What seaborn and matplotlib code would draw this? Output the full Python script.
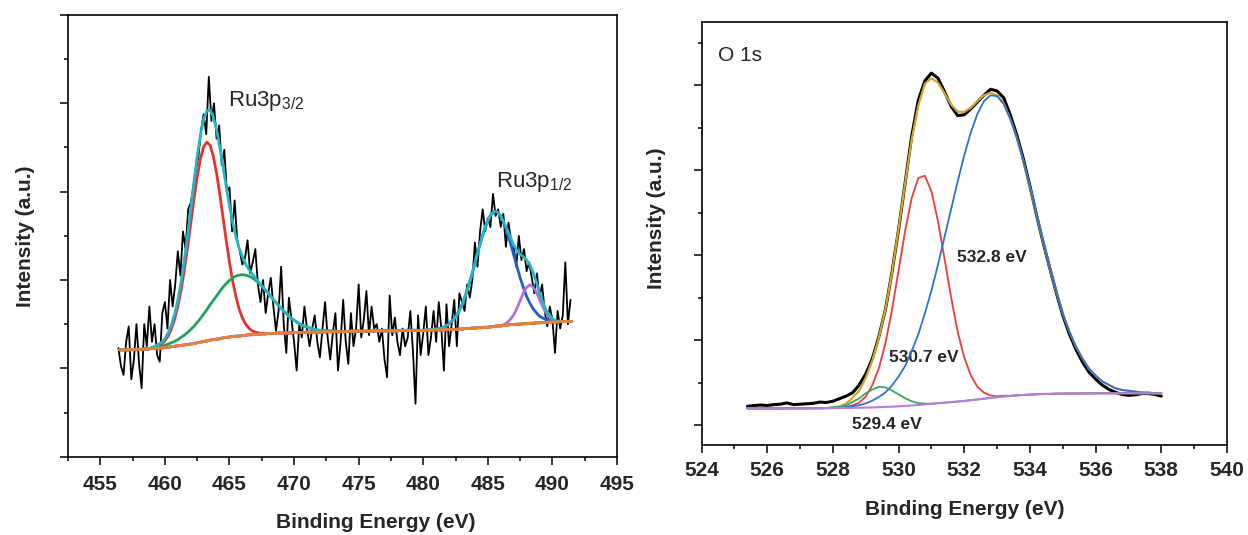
import numpy as np
import matplotlib
matplotlib.use("Agg")
import matplotlib.pyplot as plt
from matplotlib.ticker import MultipleLocator
import seaborn as sns

sns.set_theme(style="ticks")
plt.rcParams['font.family'] = ['Liberation Sans', 'DejaVu Sans']
plt.rcParams['mathtext.fontset'] = 'custom'
plt.rcParams['mathtext.rm'] = 'Liberation Sans'
plt.rcParams['mathtext.it'] = 'Liberation Sans:italic'
plt.rcParams['mathtext.bf'] = 'Liberation Sans:bold'

# ---------------- Ru 3p panel ----------------
# raw spectrum, 0.2 eV steps starting at 456.4 eV
ru_raw_start = 456.4
ru_raw = [
    2.46, 2.05, 1.85, 2.6, 2.95, 1.75, 2.2, 3.0, 2.1, 1.55,
    3.0, 2.5, 3.4, 2.6, 3.0, 2.3, 2.15, 3.25,
    3.5, 2.9, 4.0, 3.4, 3.9, 4.65, 4.1, 5.1, 4.7, 5.6,
    5.75, 6.1, 6.5, 6.8, 7.4, 7.75, 7.3, 8.6, 7.6, 8.0,
    7.2, 7.5, 6.6, 6.95, 6.0, 6.1, 5.1, 5.8,
    4.9, 4.65, 4.35, 4.5, 4.9, 4.15, 4.4, 4.7, 3.9, 3.5,
    4.0, 3.25, 3.7, 4.05, 3.4, 2.85, 3.3, 4.3, 3.0, 2.35,
    3.6, 3.1, 2.6, 1.95, 3.0, 2.7, 3.4, 2.9, 2.5, 2.9,
    3.2, 2.6, 2.25, 2.9, 3.5, 2.7, 2.2, 2.8, 3.25, 1.95,
    2.6, 3.55,
    2.6, 2.1, 3.25, 2.5, 2.9, 3.9, 2.7, 3.1, 3.75, 2.75,
    3.4, 2.9, 3.0, 2.6, 2.9, 2.2, 1.8, 3.65, 2.75, 3.15,
    2.6, 2.3, 2.9, 2.5, 2.7, 3.3, 2.4, 1.2, 3.2, 2.3,
    2.8, 3.4, 2.3, 2.7, 3.3, 2.6, 3.5, 2.9, 1.95, 3.45,
    2.5, 3.0, 3.55, 2.5, 3.7, 3.5, 3.3, 3.9, 3.6, 4.0,
    4.85, 4.3, 5.1, 5.6, 5.1, 5.4, 5.2, 5.95, 5.45, 5.6,
    5.2, 5.5, 4.75, 5.3, 4.9, 4.75, 4.3, 5.0, 4.45, 4.7,
    4.2, 4.4, 4.05, 3.7, 4.15, 3.6, 3.9, 3.3, 2.95, 3.4,
    3.1, 2.35, 3.3, 2.9, 3.2, 4.4, 3.0, 3.55,
]

# fit grid, 0.25 eV steps starting at 456.5 eV
ru_fit_start = 456.5
ru_bg = [
    2.42, 2.42, 2.42, 2.42, 2.43, 2.43, 2.43, 2.43, 2.44, 2.44,
    2.45, 2.45, 2.46, 2.46, 2.47, 2.48, 2.49, 2.50, 2.51, 2.52,
    2.53, 2.54, 2.55, 2.56, 2.58, 2.59, 2.61, 2.62, 2.64, 2.65,
    2.66, 2.67, 2.69, 2.70, 2.71, 2.72, 2.73, 2.73, 2.74, 2.75,
    2.76, 2.76, 2.77, 2.77, 2.78, 2.78, 2.79, 2.79, 2.79, 2.80,
    2.80, 2.80, 2.80, 2.80, 2.81,
    2.81, 2.81, 2.81,
    2.82, 2.82, 2.82, 2.82,  2.82, 2.82, 2.83, 2.83,
    2.83, 2.83, 2.83, 2.83,  2.83, 2.84, 2.84, 2.84,
    2.84, 2.84, 2.84, 2.84,  2.84, 2.85, 2.85, 2.85,
    2.85, 2.85, 2.85, 2.85,  2.85, 2.86, 2.86, 2.86,
    2.86, 2.86, 2.86, 2.86,  2.86, 2.87, 2.87, 2.87,
    2.87, 2.87, 2.87, 2.88,  2.88, 2.88, 2.88, 2.89,
    2.89, 2.90, 2.90, 2.91,  2.91, 2.92, 2.92, 2.93,
    2.93, 2.94, 2.95, 2.96,  2.96, 2.97, 2.98, 2.99,
    2.99, 3.00, 3.00, 3.01,  3.01, 3.02, 3.02, 3.03,
    3.03, 3.04, 3.04, 3.05,  3.05, 3.05, 3.05, 3.06,
    3.06, 3.06, 3.06,
]
# components (height above background), each with its first energy
ru_red_start = 458.75
ru_red = [0.00, 0.01, 0.03, 0.05, 0.09, 0.15, 0.25, 0.40, 0.61, 0.89,
          1.25, 1.69, 2.19, 2.73, 3.27, 3.76, 4.15, 4.41, 4.50, 4.41,
          4.15, 3.76, 3.27, 2.73, 2.19, 1.69, 1.25, 0.89, 0.61, 0.40,
          0.25, 0.15, 0.09, 0.05, 0.03, 0.01, 0.00]
ru_green_start = 459.0
ru_green = [0.02, 0.02, 0.03, 0.04, 0.05, 0.07, 0.09, 0.11, 0.14, 0.18,
            0.22, 0.27, 0.33, 0.39, 0.46, 0.54, 0.62, 0.71, 0.80, 0.89,
            0.98, 1.07, 1.15, 1.22, 1.28, 1.33, 1.36, 1.38, 1.38, 1.36,
            1.33, 1.29, 1.23, 1.16, 1.08, 1.00, 0.91, 0.82, 0.73, 0.64,
            0.56, 0.48, 0.41, 0.34, 0.28, 0.23, 0.19, 0.15, 0.12, 0.09,
            0.07, 0.05, 0.04, 0.03, 0.02, 0.02, 0.01, 0.01, 0.00]
ru_blue_start = 480.5
ru_blue = [0.01, 0.01, 0.02, 0.03, 0.05, 0.08, 0.13, 0.20, 0.28, 0.40,
           0.55, 0.74, 0.96, 1.20, 1.47, 1.74, 2.00, 2.23, 2.42, 2.55,
           2.60, 2.58, 2.48, 2.31, 2.10, 1.85, 1.58, 1.31, 1.05, 0.82,
           0.62, 0.46, 0.33, 0.23, 0.15, 0.10, 0.06, 0.04, 0.02, 0.01,
           0.01, 0.00]
ru_purple_start = 486.0
ru_purple = [0.01, 0.02, 0.06, 0.12, 0.22, 0.36, 0.53, 0.70, 0.82, 0.87,
             0.82, 0.70, 0.53, 0.36, 0.22, 0.12, 0.06, 0.02, 0.01, 0.00]

# ---------------- O 1s panel ----------------
o_start = 525.4   # 0.2 eV steps
o_raw = [
    0.22, 0.23, 0.235, 0.23, 0.24, 0.245, 0.26, 0.24, 0.245, 0.25,
    0.255, 0.27, 0.265, 0.28, 0.31, 0.34, 0.38, 0.47, 0.60, 0.78,
    1.04, 1.36, 1.80, 2.30, 2.85, 3.40, 3.82, 4.05, 4.14, 4.08,
    3.92, 3.75, 3.64, 3.65, 3.72, 3.80, 3.88, 3.95, 3.93, 3.85,
    3.65, 3.41, 3.13, 2.81, 2.47, 2.15, 1.85, 1.56, 1.29, 1.07,
    0.89, 0.74, 0.62, 0.54, 0.47, 0.42, 0.385, 0.36, 0.35, 0.355,
    0.37, 0.37, 0.36, 0.34,
]
o_bg = [
    0.196, 0.196, 0.196, 0.196, 0.196, 0.196, 0.197, 0.197, 0.197, 0.197,
    0.198, 0.198, 0.199, 0.199, 0.200, 0.201, 0.202, 0.203, 0.205, 0.207,
    0.210, 0.213, 0.216, 0.220, 0.225, 0.230, 0.236, 0.243, 0.250, 0.257,
    0.263, 0.270, 0.276, 0.284, 0.292, 0.301, 0.310, 0.319, 0.328, 0.336,
    0.343, 0.349, 0.354, 0.358, 0.362, 0.365, 0.367, 0.369, 0.370, 0.371,
    0.371, 0.372, 0.372, 0.373, 0.373, 0.373, 0.373, 0.373, 0.373, 0.373,
    0.373, 0.373, 0.373, 0.373,
]
o_red_start = 528.0
o_red = [0.00, 0.00, 0.01, 0.03, 0.06, 0.13, 0.26, 0.46, 0.75, 1.14,
         1.60, 2.06, 2.44, 2.67, 2.69, 2.50, 2.14, 1.69, 1.23, 0.82,
         0.51, 0.29, 0.15, 0.07, 0.03, 0.01, 0.01, 0.00]
o_green_start = 527.6
o_green = [0.00, 0.00, 0.01, 0.01, 0.03, 0.07, 0.11, 0.17, 0.21, 0.24,
           0.23, 0.19, 0.14, 0.09, 0.05, 0.02, 0.01, 0.00, 0.00]
o_blue_start = 528.2
o_blue = [0.01, 0.01, 0.02, 0.03, 0.05, 0.08, 0.12, 0.17, 0.25, 0.35,
          0.47, 0.64, 0.83, 1.07, 1.33, 1.63, 1.95, 2.27, 2.59, 2.89,
          3.15, 3.36, 3.50, 3.56, 3.54, 3.44, 3.26, 3.03, 2.75, 2.44,
          2.11, 1.79, 1.48, 1.20, 0.94, 0.73, 0.55, 0.41, 0.29, 0.21,
          0.14, 0.10, 0.06, 0.04, 0.03, 0.02, 0.01, 0.01, 0.00, 0.00]


def grid(start, step, n):
    return np.round(start + step * np.arange(n), 3)


def place(x, start, step, vals):
    # put a component onto the full grid, zero elsewhere
    out = np.zeros(len(x))
    i0 = int(round((start - x[0]) / step))
    out[i0:i0 + len(vals)] = vals[:len(x) - i0]
    return out


def line(ax, x, y, color, lw, z):
    sns.lineplot(x=x, y=y, ax=ax, color=color, linewidth=lw, zorder=z,
                 sort=False, estimator=None, legend=False)


fig = plt.figure(figsize=(12.48, 5.35), dpi=100)
fig.patch.set_facecolor('white')
ax1 = fig.add_axes([0.0545, 0.1464, 0.4399, 0.8256])
ax2 = fig.add_axes([0.5621, 0.1682, 0.4211, 0.7916])

# --- left
xr = grid(ru_raw_start, 0.2, len(ru_raw))
xf = grid(ru_fit_start, 0.25, len(ru_bg))
bg = np.array(ru_bg)
red = place(xf, ru_red_start, 0.25, ru_red)
green = place(xf, ru_green_start, 0.25, ru_green)
blue = place(xf, ru_blue_start, 0.25, ru_blue)
purple = place(xf, ru_purple_start, 0.25, ru_purple)
env = bg + red + green + blue + purple

line(ax1, xr, ru_raw, 'black', 1.3, 2)
line(ax1, xf, bg + red, '#e8312f', 2.0, 3)
line(ax1, xf, bg + green, '#1fa35c', 2.0, 3)
line(ax1, xf, bg + blue, '#1f5fc8', 2.0, 3)
line(ax1, xf, bg + purple, '#b36fe0', 2.0, 3)
line(ax1, xf, env, '#1fb7c9', 2.0, 4)
line(ax1, xf, bg, '#ee7f2d', 2.0, 5)

ax1.set_xlim(452.5, 495)
ax1.set_ylim(0, 10)
ax1.xaxis.set_major_locator(MultipleLocator(5))
ax1.xaxis.set_minor_locator(MultipleLocator(2.5))
ax1.yaxis.set_major_locator(MultipleLocator(2))
ax1.yaxis.set_minor_locator(MultipleLocator(1))
ax1.text(464.85, 7.93, r'Ru3p$_{\mathregular{3/2}}$', fontsize=16, va='baseline')
ax1.text(485.65, 6.11, r'Ru3p$_{\mathregular{1/2}}$', fontsize=16, va='baseline')
ax1.set_xlabel('Binding Energy (eV)', fontsize=15, fontweight='bold')
ax1.set_ylabel('Intensity (a.u.)', fontsize=15, fontweight='bold')
ax1.xaxis.set_label_coords(0.56, -0.127)
ax1.yaxis.set_label_coords(-0.060, 0.5)

# --- right
xo = grid(o_start, 0.2, len(o_bg))
obg = np.array(o_bg)
ored = place(xo, o_red_start, 0.2, o_red)
ogreen = place(xo, o_green_start, 0.2, o_green)
oblue = place(xo, o_blue_start, 0.2, o_blue)
oenv = obg + ored + ogreen + oblue

line(ax2, grid(o_start, 0.2, len(o_raw)), o_raw, 'black', 2.2, 2)
line(ax2, xo, oenv, '#d1a62c', 1.6, 3)
line(ax2, xo, obg + ored, '#ee3b3b', 1.3, 4)
line(ax2, xo, obg + oblue, '#2a72d8', 1.3, 4)
line(ax2, xo, obg + ogreen, '#36a862', 1.3, 4)
line(ax2, xo, obg, '#b77ddd', 1.5, 5)

ax2.set_xlim(524, 540)
ax2.set_ylim(-0.235, 4.747)
ax2.xaxis.set_major_locator(MultipleLocator(2))
ax2.xaxis.set_minor_locator(MultipleLocator(1))
ax2.yaxis.set_major_locator(MultipleLocator(1))
ax2.yaxis.set_minor_locator(MultipleLocator(0.5))
ax2.text(524.49, 4.285, 'O 1s', fontsize=15, va='baseline')
ax2.text(531.78, 1.92, '532.8 eV', fontsize=12.5, fontweight='bold', va='baseline')
ax2.text(529.70, 0.745, '530.7 eV', fontsize=12.5, fontweight='bold', va='baseline')
ax2.text(528.57, -0.05, '529.4 eV', fontsize=12.5, fontweight='bold', va='baseline')
ax2.set_xlabel('Binding Energy (eV)', fontsize=15, fontweight='bold')
ax2.set_ylabel('Intensity (a.u.)', fontsize=15, fontweight='bold')
ax2.xaxis.set_label_coords(0.5, -0.130)
ax2.yaxis.set_label_coords(-0.0685, 0.535)

for ax, pad in ((ax1, 7), (ax2, 5.5)):
    ax.set_facecolor('white')
    for s in ax.spines.values():
        s.set_color('black')
        s.set_linewidth(1.2)
    ax.tick_params(which='both', direction='out', color='black', width=1.1,
                   labelleft=False, left=True, bottom=True)
    ax.tick_params(which='major', length=6, pad=pad, labelsize=15)
    ax.tick_params(which='minor', length=3)
    for lab in ax.get_xticklabels():
        lab.set_fontweight('bold')

fig.savefig('out.png', dpi=100, facecolor='white')
